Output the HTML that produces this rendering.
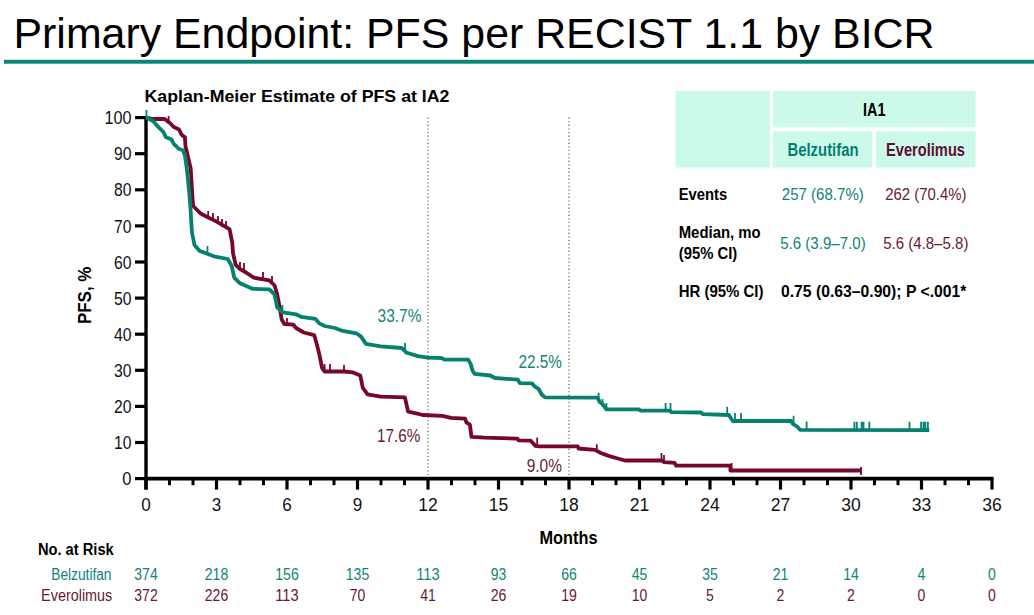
<!DOCTYPE html>
<html><head><meta charset="utf-8"><style>
html,body{margin:0;padding:0;background:#fff;width:1034px;height:615px;overflow:hidden}
svg{display:block;font-family:"Liberation Sans",sans-serif}
</style></head><body>
<svg width="1034" height="615" viewBox="0 0 1034 615">
<text x="13.5" y="48" font-size="42" fill="#000" textLength="921" lengthAdjust="spacingAndGlyphs">Primary Endpoint: PFS per RECIST 1.1 by BICR</text>
<rect x="4" y="59.8" width="1030" height="3.9" fill="#0b8576"/>
<text x="144.5" y="101.7" font-size="17" fill="#000" font-weight="bold" textLength="305" lengthAdjust="spacingAndGlyphs">Kaplan-Meier Estimate of PFS at IA2</text>
<rect x="675.5" y="91" width="94.5" height="76.5" fill="#cbfaeb"/>
<rect x="773" y="91" width="202.5" height="36.3" fill="#cbfaeb"/>
<rect x="773" y="131.3" width="99.5" height="36.2" fill="#cbfaeb"/>
<rect x="876" y="131.3" width="99.5" height="36.2" fill="#cbfaeb"/>
<text x="863" y="115.6" font-size="17.5" fill="#000" font-weight="bold" textLength="22.5" lengthAdjust="spacingAndGlyphs">IA1</text>
<text x="787.5" y="155.5" font-size="17.5" fill="#067d6e" font-weight="bold" textLength="71" lengthAdjust="spacingAndGlyphs">Belzutifan</text>
<text x="886" y="155.5" font-size="17.5" fill="#630d35" font-weight="bold" textLength="79" lengthAdjust="spacingAndGlyphs">Everolimus</text>
<text x="678.7" y="199.6" font-size="16.5" fill="#000" font-weight="bold" textLength="48.5" lengthAdjust="spacingAndGlyphs">Events</text>
<text x="678.7" y="237.9" font-size="16.5" fill="#000" font-weight="bold" textLength="82" lengthAdjust="spacingAndGlyphs">Median, mo</text>
<text x="678.7" y="259.3" font-size="16.5" fill="#000" font-weight="bold" textLength="58.6" lengthAdjust="spacingAndGlyphs">(95% CI)</text>
<text x="678.7" y="297.1" font-size="16.5" fill="#000" font-weight="bold" textLength="84.8" lengthAdjust="spacingAndGlyphs">HR (95% CI)</text>
<text x="781.8" y="199.6" font-size="16.5" fill="#0f8477" textLength="82" lengthAdjust="spacingAndGlyphs">257 (68.7%)</text>
<text x="885.2" y="199.6" font-size="16.5" fill="#68183a" textLength="81.2" lengthAdjust="spacingAndGlyphs">262 (70.4%)</text>
<text x="780.2" y="248.6" font-size="16.5" fill="#0f8477" textLength="85.5" lengthAdjust="spacingAndGlyphs">5.6 (3.9–7.0)</text>
<text x="883.3" y="248.6" font-size="16.5" fill="#68183a" textLength="85.1" lengthAdjust="spacingAndGlyphs">5.6 (4.8–5.8)</text>
<text x="781" y="297.1" font-size="16.5" fill="#000" font-weight="bold" textLength="185.4" lengthAdjust="spacingAndGlyphs">0.75 (0.63–0.90); P &lt;.001*</text>
<line x1="146.0" y1="117.10000000000002" x2="146.0" y2="489.6" stroke="#000" stroke-width="3.4"/>
<line x1="146.0" y1="478.6" x2="993.5" y2="478.6" stroke="#000" stroke-width="3.6"/>
<line x1="135" y1="478.60" x2="146.0" y2="478.60" stroke="#000" stroke-width="3.2"/>
<text x="131.5" y="485.20000000000005" font-size="18.5" fill="#111" text-anchor="end" textLength="9.2" lengthAdjust="spacingAndGlyphs">0</text>
<line x1="135" y1="442.50" x2="146.0" y2="442.50" stroke="#000" stroke-width="3.2"/>
<text x="131.5" y="449.1" font-size="18.5" fill="#111" text-anchor="end" textLength="17.5" lengthAdjust="spacingAndGlyphs">10</text>
<line x1="135" y1="406.40" x2="146.0" y2="406.40" stroke="#000" stroke-width="3.2"/>
<text x="131.5" y="413.00000000000006" font-size="18.5" fill="#111" text-anchor="end" textLength="17.5" lengthAdjust="spacingAndGlyphs">20</text>
<line x1="135" y1="370.30" x2="146.0" y2="370.30" stroke="#000" stroke-width="3.2"/>
<text x="131.5" y="376.90000000000003" font-size="18.5" fill="#111" text-anchor="end" textLength="17.5" lengthAdjust="spacingAndGlyphs">30</text>
<line x1="135" y1="334.20" x2="146.0" y2="334.20" stroke="#000" stroke-width="3.2"/>
<text x="131.5" y="340.80000000000007" font-size="18.5" fill="#111" text-anchor="end" textLength="17.5" lengthAdjust="spacingAndGlyphs">40</text>
<line x1="135" y1="298.10" x2="146.0" y2="298.10" stroke="#000" stroke-width="3.2"/>
<text x="131.5" y="304.70000000000005" font-size="18.5" fill="#111" text-anchor="end" textLength="17.5" lengthAdjust="spacingAndGlyphs">50</text>
<line x1="135" y1="262.00" x2="146.0" y2="262.00" stroke="#000" stroke-width="3.2"/>
<text x="131.5" y="268.6" font-size="18.5" fill="#111" text-anchor="end" textLength="17.5" lengthAdjust="spacingAndGlyphs">60</text>
<line x1="135" y1="225.90" x2="146.0" y2="225.90" stroke="#000" stroke-width="3.2"/>
<text x="131.5" y="232.50000000000003" font-size="18.5" fill="#111" text-anchor="end" textLength="17.5" lengthAdjust="spacingAndGlyphs">70</text>
<line x1="135" y1="189.80" x2="146.0" y2="189.80" stroke="#000" stroke-width="3.2"/>
<text x="131.5" y="196.4" font-size="18.5" fill="#111" text-anchor="end" textLength="17.5" lengthAdjust="spacingAndGlyphs">80</text>
<line x1="135" y1="153.70" x2="146.0" y2="153.70" stroke="#000" stroke-width="3.2"/>
<text x="131.5" y="160.30000000000004" font-size="18.5" fill="#111" text-anchor="end" textLength="17.5" lengthAdjust="spacingAndGlyphs">90</text>
<line x1="135" y1="117.60" x2="146.0" y2="117.60" stroke="#000" stroke-width="3.2"/>
<text x="131.5" y="124.20000000000002" font-size="18.5" fill="#111" text-anchor="end" textLength="27" lengthAdjust="spacingAndGlyphs">100</text>
<line x1="146.00" y1="478.6" x2="146.00" y2="489.6" stroke="#000" stroke-width="3.2"/>
<text x="146.0" y="510.8" font-size="18" fill="#111" text-anchor="middle" textLength="9.5" lengthAdjust="spacingAndGlyphs">0</text>
<line x1="169.50" y1="478.6" x2="169.50" y2="485.20000000000005" stroke="#000" stroke-width="3"/>
<line x1="193.00" y1="478.6" x2="193.00" y2="485.20000000000005" stroke="#000" stroke-width="3"/>
<line x1="216.50" y1="478.6" x2="216.50" y2="489.6" stroke="#000" stroke-width="3.2"/>
<text x="216.5" y="510.8" font-size="18" fill="#111" text-anchor="middle" textLength="9.5" lengthAdjust="spacingAndGlyphs">3</text>
<line x1="240.00" y1="478.6" x2="240.00" y2="485.20000000000005" stroke="#000" stroke-width="3"/>
<line x1="263.50" y1="478.6" x2="263.50" y2="485.20000000000005" stroke="#000" stroke-width="3"/>
<line x1="287.00" y1="478.6" x2="287.00" y2="489.6" stroke="#000" stroke-width="3.2"/>
<text x="287.0" y="510.8" font-size="18" fill="#111" text-anchor="middle" textLength="9.5" lengthAdjust="spacingAndGlyphs">6</text>
<line x1="310.50" y1="478.6" x2="310.50" y2="485.20000000000005" stroke="#000" stroke-width="3"/>
<line x1="334.00" y1="478.6" x2="334.00" y2="485.20000000000005" stroke="#000" stroke-width="3"/>
<line x1="357.50" y1="478.6" x2="357.50" y2="489.6" stroke="#000" stroke-width="3.2"/>
<text x="357.5" y="510.8" font-size="18" fill="#111" text-anchor="middle" textLength="9.5" lengthAdjust="spacingAndGlyphs">9</text>
<line x1="381.00" y1="478.6" x2="381.00" y2="485.20000000000005" stroke="#000" stroke-width="3"/>
<line x1="404.50" y1="478.6" x2="404.50" y2="485.20000000000005" stroke="#000" stroke-width="3"/>
<line x1="428.00" y1="478.6" x2="428.00" y2="489.6" stroke="#000" stroke-width="3.2"/>
<text x="428.0" y="510.8" font-size="18" fill="#111" text-anchor="middle" textLength="19.5" lengthAdjust="spacingAndGlyphs">12</text>
<line x1="451.50" y1="478.6" x2="451.50" y2="485.20000000000005" stroke="#000" stroke-width="3"/>
<line x1="475.00" y1="478.6" x2="475.00" y2="485.20000000000005" stroke="#000" stroke-width="3"/>
<line x1="498.50" y1="478.6" x2="498.50" y2="489.6" stroke="#000" stroke-width="3.2"/>
<text x="498.5" y="510.8" font-size="18" fill="#111" text-anchor="middle" textLength="19.5" lengthAdjust="spacingAndGlyphs">15</text>
<line x1="522.00" y1="478.6" x2="522.00" y2="485.20000000000005" stroke="#000" stroke-width="3"/>
<line x1="545.50" y1="478.6" x2="545.50" y2="485.20000000000005" stroke="#000" stroke-width="3"/>
<line x1="569.00" y1="478.6" x2="569.00" y2="489.6" stroke="#000" stroke-width="3.2"/>
<text x="569.0" y="510.8" font-size="18" fill="#111" text-anchor="middle" textLength="19.5" lengthAdjust="spacingAndGlyphs">18</text>
<line x1="592.50" y1="478.6" x2="592.50" y2="485.20000000000005" stroke="#000" stroke-width="3"/>
<line x1="616.00" y1="478.6" x2="616.00" y2="485.20000000000005" stroke="#000" stroke-width="3"/>
<line x1="639.50" y1="478.6" x2="639.50" y2="489.6" stroke="#000" stroke-width="3.2"/>
<text x="639.5" y="510.8" font-size="18" fill="#111" text-anchor="middle" textLength="19.5" lengthAdjust="spacingAndGlyphs">21</text>
<line x1="663.00" y1="478.6" x2="663.00" y2="485.20000000000005" stroke="#000" stroke-width="3"/>
<line x1="686.50" y1="478.6" x2="686.50" y2="485.20000000000005" stroke="#000" stroke-width="3"/>
<line x1="710.00" y1="478.6" x2="710.00" y2="489.6" stroke="#000" stroke-width="3.2"/>
<text x="710.0" y="510.8" font-size="18" fill="#111" text-anchor="middle" textLength="19.5" lengthAdjust="spacingAndGlyphs">24</text>
<line x1="733.50" y1="478.6" x2="733.50" y2="485.20000000000005" stroke="#000" stroke-width="3"/>
<line x1="757.00" y1="478.6" x2="757.00" y2="485.20000000000005" stroke="#000" stroke-width="3"/>
<line x1="780.50" y1="478.6" x2="780.50" y2="489.6" stroke="#000" stroke-width="3.2"/>
<text x="780.5" y="510.8" font-size="18" fill="#111" text-anchor="middle" textLength="19.5" lengthAdjust="spacingAndGlyphs">27</text>
<line x1="804.00" y1="478.6" x2="804.00" y2="485.20000000000005" stroke="#000" stroke-width="3"/>
<line x1="827.50" y1="478.6" x2="827.50" y2="485.20000000000005" stroke="#000" stroke-width="3"/>
<line x1="851.00" y1="478.6" x2="851.00" y2="489.6" stroke="#000" stroke-width="3.2"/>
<text x="851.0" y="510.8" font-size="18" fill="#111" text-anchor="middle" textLength="19.5" lengthAdjust="spacingAndGlyphs">30</text>
<line x1="874.50" y1="478.6" x2="874.50" y2="485.20000000000005" stroke="#000" stroke-width="3"/>
<line x1="898.00" y1="478.6" x2="898.00" y2="485.20000000000005" stroke="#000" stroke-width="3"/>
<line x1="921.50" y1="478.6" x2="921.50" y2="489.6" stroke="#000" stroke-width="3.2"/>
<text x="921.5" y="510.8" font-size="18" fill="#111" text-anchor="middle" textLength="19.5" lengthAdjust="spacingAndGlyphs">33</text>
<line x1="945.00" y1="478.6" x2="945.00" y2="485.20000000000005" stroke="#000" stroke-width="3"/>
<line x1="968.50" y1="478.6" x2="968.50" y2="485.20000000000005" stroke="#000" stroke-width="3"/>
<line x1="992.00" y1="478.6" x2="992.00" y2="489.6" stroke="#000" stroke-width="3.2"/>
<text x="992.0" y="510.8" font-size="18" fill="#111" text-anchor="middle" textLength="19.5" lengthAdjust="spacingAndGlyphs">36</text>
<line x1="428.00" y1="117.60000000000002" x2="428.00" y2="476.6" stroke="#555" stroke-width="1.2" stroke-dasharray="1.1 2.5"/>
<line x1="569.00" y1="117.60000000000002" x2="569.00" y2="476.6" stroke="#555" stroke-width="1.2" stroke-dasharray="1.1 2.5"/>
<text x="539.5" y="544" font-size="19" fill="#000" font-weight="bold" textLength="58" lengthAdjust="spacingAndGlyphs">Months</text>
<text transform="translate(91,295.3) rotate(-90)" font-size="18.5" font-weight="bold" text-anchor="middle" textLength="57.5" lengthAdjust="spacingAndGlyphs">PFS, %</text>
<text x="377.6" y="322.1" font-size="18.5" fill="#0f8477" textLength="43.8" lengthAdjust="spacingAndGlyphs">33.7%</text>
<text x="518.5" y="367.6" font-size="18.5" fill="#0f8477" textLength="43.4" lengthAdjust="spacingAndGlyphs">22.5%</text>
<text x="377" y="442" font-size="18.5" fill="#68183a" textLength="43.2" lengthAdjust="spacingAndGlyphs">17.6%</text>
<text x="526.7" y="472.1" font-size="18.5" fill="#68183a" textLength="35.2" lengthAdjust="spacingAndGlyphs">9.0%</text>
<text x="37.9" y="555.1" font-size="16" fill="#000" font-weight="bold" textLength="75.8" lengthAdjust="spacingAndGlyphs">No. at Risk</text>
<text x="111.5" y="580.4" font-size="16" fill="#0f8477" text-anchor="end" textLength="60.2" lengthAdjust="spacingAndGlyphs">Belzutifan</text>
<text x="112.3" y="601.3" font-size="16" fill="#68183a" text-anchor="end" textLength="71.2" lengthAdjust="spacingAndGlyphs">Everolimus</text>
<text x="146.0" y="580.4" font-size="16" fill="#0f8477" text-anchor="middle" textLength="23.4" lengthAdjust="spacingAndGlyphs">374</text>
<text x="146.0" y="601.3" font-size="16" fill="#68183a" text-anchor="middle" textLength="23.4" lengthAdjust="spacingAndGlyphs">372</text>
<text x="216.5" y="580.4" font-size="16" fill="#0f8477" text-anchor="middle" textLength="23.4" lengthAdjust="spacingAndGlyphs">218</text>
<text x="216.5" y="601.3" font-size="16" fill="#68183a" text-anchor="middle" textLength="23.4" lengthAdjust="spacingAndGlyphs">226</text>
<text x="287.0" y="580.4" font-size="16" fill="#0f8477" text-anchor="middle" textLength="23.4" lengthAdjust="spacingAndGlyphs">156</text>
<text x="287.0" y="601.3" font-size="16" fill="#68183a" text-anchor="middle" textLength="23.4" lengthAdjust="spacingAndGlyphs">113</text>
<text x="357.5" y="580.4" font-size="16" fill="#0f8477" text-anchor="middle" textLength="23.4" lengthAdjust="spacingAndGlyphs">135</text>
<text x="357.5" y="601.3" font-size="16" fill="#68183a" text-anchor="middle" textLength="15.6" lengthAdjust="spacingAndGlyphs">70</text>
<text x="428.0" y="580.4" font-size="16" fill="#0f8477" text-anchor="middle" textLength="23.4" lengthAdjust="spacingAndGlyphs">113</text>
<text x="428.0" y="601.3" font-size="16" fill="#68183a" text-anchor="middle" textLength="15.6" lengthAdjust="spacingAndGlyphs">41</text>
<text x="498.5" y="580.4" font-size="16" fill="#0f8477" text-anchor="middle" textLength="15.6" lengthAdjust="spacingAndGlyphs">93</text>
<text x="498.5" y="601.3" font-size="16" fill="#68183a" text-anchor="middle" textLength="15.6" lengthAdjust="spacingAndGlyphs">26</text>
<text x="569.0" y="580.4" font-size="16" fill="#0f8477" text-anchor="middle" textLength="15.6" lengthAdjust="spacingAndGlyphs">66</text>
<text x="569.0" y="601.3" font-size="16" fill="#68183a" text-anchor="middle" textLength="15.6" lengthAdjust="spacingAndGlyphs">19</text>
<text x="639.5" y="580.4" font-size="16" fill="#0f8477" text-anchor="middle" textLength="15.6" lengthAdjust="spacingAndGlyphs">45</text>
<text x="639.5" y="601.3" font-size="16" fill="#68183a" text-anchor="middle" textLength="15.6" lengthAdjust="spacingAndGlyphs">10</text>
<text x="710.0" y="580.4" font-size="16" fill="#0f8477" text-anchor="middle" textLength="15.6" lengthAdjust="spacingAndGlyphs">35</text>
<text x="710.0" y="601.3" font-size="16" fill="#68183a" text-anchor="middle" textLength="7.8" lengthAdjust="spacingAndGlyphs">5</text>
<text x="780.5" y="580.4" font-size="16" fill="#0f8477" text-anchor="middle" textLength="15.6" lengthAdjust="spacingAndGlyphs">21</text>
<text x="780.5" y="601.3" font-size="16" fill="#68183a" text-anchor="middle" textLength="7.8" lengthAdjust="spacingAndGlyphs">2</text>
<text x="851.0" y="580.4" font-size="16" fill="#0f8477" text-anchor="middle" textLength="15.6" lengthAdjust="spacingAndGlyphs">14</text>
<text x="851.0" y="601.3" font-size="16" fill="#68183a" text-anchor="middle" textLength="7.8" lengthAdjust="spacingAndGlyphs">2</text>
<text x="921.5" y="580.4" font-size="16" fill="#0f8477" text-anchor="middle" textLength="7.8" lengthAdjust="spacingAndGlyphs">4</text>
<text x="921.5" y="601.3" font-size="16" fill="#68183a" text-anchor="middle" textLength="7.8" lengthAdjust="spacingAndGlyphs">0</text>
<text x="992.0" y="580.4" font-size="16" fill="#0f8477" text-anchor="middle" textLength="7.8" lengthAdjust="spacingAndGlyphs">0</text>
<text x="992.0" y="601.3" font-size="16" fill="#68183a" text-anchor="middle" textLength="7.8" lengthAdjust="spacingAndGlyphs">0</text>
<path d="M146.0,117.5 L153.0,119.0 L164.7,119.0 L169.9,123.0 L173.8,127.0 L179.0,129.5 L181.6,134.7 L184.9,137.3 L185.5,146.4 L188.0,156.8 L190.7,168.5 L192.6,199.5 L193.2,206.0 L197.1,210.0 L201.0,213.8 L208.8,217.7 L216.6,221.6 L225.7,226.8 L229.6,229.4 L232.2,242.4 L233.0,253.0 L235.6,264.7 L239.5,268.6 L246.0,272.5 L253.8,277.7 L269.4,280.3 L274.6,285.5 L277.2,294.6 L279.8,307.6 L281.7,319.5 L284.3,324.0 L293.4,324.7 L296.0,328.0 L303.8,332.5 L314.2,335.1 L316.8,344.2 L319.4,354.6 L322.0,367.6 L324.6,371.5 L344.0,371.5 L353.0,372.4 L360.3,375.6 L362.8,387.8 L367.6,394.3 L380.7,396.7 L404.9,397.4 L408.1,411.7 L416.3,413.3 L422.8,415.0 L442.3,415.8 L451.1,417.8 L465.0,418.6 L466.6,422.7 L469.9,424.7 L471.5,436.9 L484.6,437.7 L517.6,438.7 L518.5,440.3 L530.7,440.7 L535.5,445.9 L538.8,446.3 L577.8,446.3 L578.6,448.5 L594.9,449.9 L601.4,453.2 L607.9,455.6 L616.0,458.0 L625.0,460.5 L661.5,460.5 L664.0,462.1 L674.6,462.9 L676.2,465.7 L730.4,465.7 L730.4,470.5 L861.0,470.5" fill="none" stroke="#76082b" stroke-width="3.8" stroke-linejoin="round"/>
<path d="M168.6,115.9V123.9 M208.2,211.0V219.0 M213.0,213.0V221.0 M218.0,216.0V224.0 M222.0,219.0V227.0 M226.0,221.0V229.0 M240.0,262.0V270.0 M244.0,263.0V271.0 M263.0,272.0V280.0 M272.0,276.0V284.0 M287.0,318.0V326.0 M324.6,364.0V372.0 M330.0,364.0V372.0 M344.0,365.0V373.0 M537.2,437.4V445.4 M596.8,444.2V452.2 M661.5,453.0V461.0 M664.0,455.0V463.0 M731.5,463.0V471.0 M861.0,467.0V475.0" fill="none" stroke="#76082b" stroke-width="1.8"/>
<path d="M146.0,117.5 L153.0,121.0 L157.0,125.6 L163.4,132.0 L166.0,137.3 L171.2,139.3 L173.8,143.8 L179.0,149.0 L183.0,150.3 L184.9,155.5 L186.8,168.5 L189.3,193.0 L190.6,209.9 L191.9,232.0 L194.5,245.0 L199.7,250.9 L214.0,256.3 L227.8,259.0 L231.7,266.0 L234.3,277.7 L239.5,282.9 L252.5,288.8 L269.4,289.4 L274.6,294.6 L277.2,307.6 L281.1,310.9 L283.0,312.4 L296.0,314.3 L301.2,316.9 L315.5,318.9 L319.4,323.4 L324.6,326.0 L335.0,328.0 L341.5,330.6 L356.3,333.3 L361.1,336.6 L366.0,343.9 L380.7,346.3 L401.8,348.0 L406.7,352.8 L418.0,356.1 L427.8,357.7 L441.4,358.0 L444.6,359.6 L468.2,359.6 L470.7,364.1 L472.6,370.7 L474.7,373.9 L490.2,375.5 L495.0,378.0 L517.8,379.6 L519.8,383.2 L532.0,383.3 L534.4,386.3 L538.5,388.8 L541.7,394.5 L545.0,397.4 L597.8,397.6 L599.4,401.8 L602.7,404.2 L606.3,409.3 L638.8,409.3 L640.4,410.6 L669.7,410.6 L671.3,412.2 L701.1,412.5 L702.8,414.1 L728.8,415.0 L732.8,421.0 L791.1,421.0 L792.8,423.9 L796.8,426.3 L800.1,429.8 L929.3,430.1" fill="none" stroke="#06806f" stroke-width="3.8" stroke-linejoin="round"/>
<path d="M146.5,110.0V118.0 M207.5,246.0V254.0 M282.4,305.0V313.0 M405.0,343.0V351.0 M598.6,392.8V400.8 M602.5,399.0V407.0 M606.5,403.0V411.0 M665.6,403.0V411.0 M670.5,403.0V411.0 M727.2,406.8V414.8 M735.0,413.0V421.0 M741.0,413.0V421.0 M793.6,415.8V423.8 M806.6,421.5V429.5 M854.4,421.8V429.8 M856.8,421.8V429.8 M861.6,421.8V429.8 M863.5,421.8V429.8 M869.3,421.8V429.8 M909.5,421.8V429.8 M921.1,421.8V429.8 M923.5,421.8V429.8 M925.4,421.8V429.8 M927.9,421.8V429.8" fill="none" stroke="#06806f" stroke-width="1.8"/>
</svg>
</body></html>
